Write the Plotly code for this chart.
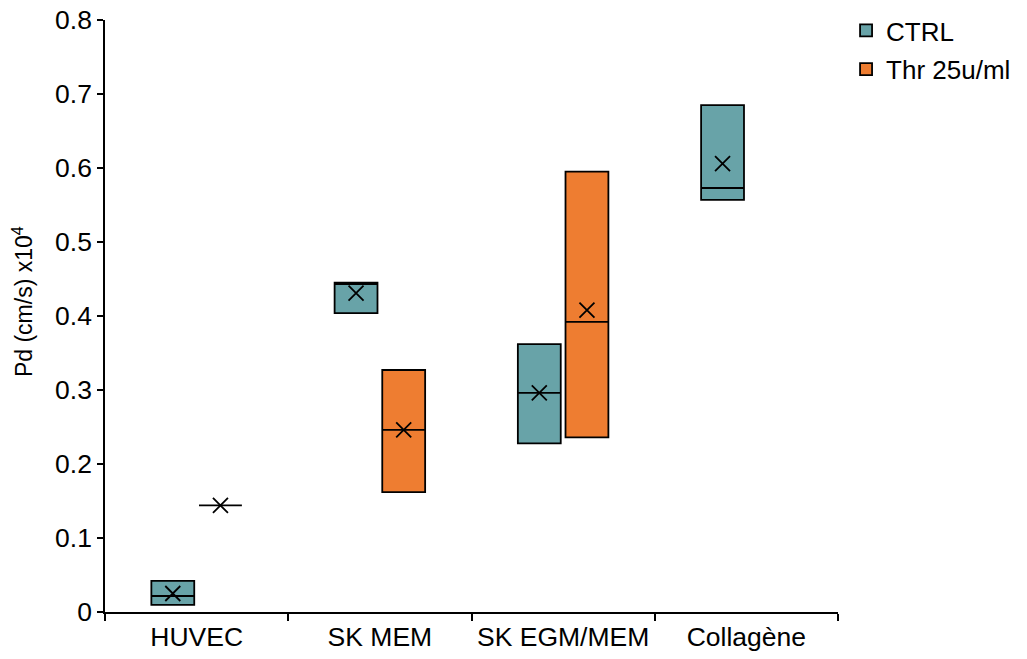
import plotly.graph_objects as go

categories = ["HUVEC", "SK MEM", "SK EGM/MEM", "Collagène"]

# CTRL series (quartiles and means)
ctrl_q1 = [0.0095, 0.404, 0.228, 0.557]
ctrl_median = [0.0216, 0.443, 0.296, 0.573]
ctrl_q3 = [0.042, 0.445, 0.362, 0.685]
ctrl_mean = [0.025, 0.431, 0.296, 0.606]

# Thr 25u/ml series (no Collagène value)
thr_cats = ["HUVEC", "SK MEM", "SK EGM/MEM"]
thr_q1 = [0.144, 0.162, 0.236]
thr_median = [0.144, 0.246, 0.392]
thr_q3 = [0.144, 0.327, 0.595]
thr_mean = [0.144, 0.246, 0.408]

y_ticks = [0, 0.1, 0.2, 0.3, 0.4, 0.5, 0.6, 0.7, 0.8]
y_ticktext = ["0", "0.1", "0.2", "0.3", "0.4", "0.5", "0.6", "0.7", "0.8"]

TEAL = "#68a3a8"
ORANGE = "#ee7d31"
FONT = "Liberation Sans, Arial, sans-serif"
FS = 26.5

fig = go.Figure()

fig.add_trace(go.Box(
    name="CTRL", x=categories, q1=ctrl_q1, median=ctrl_median, q3=ctrl_q3,
    lowerfence=ctrl_q1, upperfence=ctrl_q3,
    fillcolor=TEAL, line=dict(color="black", width=1.8), whiskerwidth=0,
    offsetgroup="ctrl", legendgroup="ctrl", hoverinfo="skip",
))
fig.add_trace(go.Box(
    name="Thr 25u/ml", x=thr_cats, q1=thr_q1, median=thr_median, q3=thr_q3,
    lowerfence=thr_q1, upperfence=thr_q3,
    fillcolor=ORANGE, line=dict(color="black", width=1.8), whiskerwidth=0,
    offsetgroup="thr", legendgroup="thr", hoverinfo="skip",
))
fig.add_trace(go.Scatter(
    x=categories, y=ctrl_mean, mode="markers", showlegend=False,
    offsetgroup="ctrl", legendgroup="ctrl",
    marker=dict(symbol="x-thin", size=15, line=dict(color="black", width=1.8)),
    hoverinfo="skip",
))
fig.add_trace(go.Scatter(
    x=thr_cats, y=thr_mean, mode="markers", showlegend=False,
    offsetgroup="thr", legendgroup="thr",
    marker=dict(symbol="x-thin", size=15, line=dict(color="black", width=1.8)),
    hoverinfo="skip",
))

fig.update_layout(
    width=1027, height=659,
    margin=dict(l=105, r=189, t=20, b=47, autoexpand=False),
    paper_bgcolor="white", plot_bgcolor="white",
    font=dict(family=FONT, size=FS, color="black"),
    boxmode="group", boxgap=0.48, boxgroupgap=0.1,
    scattermode="group", scattergap=0.48,
    legend=dict(x=1.011, y=1.022, xanchor="left", yanchor="top",
                font=dict(size=26), tracegroupgap=2, bgcolor="rgba(0,0,0,0)"),
    annotations=[dict(
        text="Pd (cm/s) x10<sup>4</sup>", textangle=-90,
        xref="paper", yref="paper", x=-0.112, y=0.525,
        xanchor="center", yanchor="middle", showarrow=False,
        font=dict(size=23),
    )],
)
fig.update_xaxes(
    type="category", categoryorder="array", categoryarray=categories,
    showline=True, linecolor="black", linewidth=1.5,
    ticks="outside", tickson="boundaries", ticklen=7, tickcolor="black", tickwidth=1.5,
    showgrid=False, zeroline=False, tickfont=dict(size=FS), automargin=False,
    ticklabeloverflow="allow",
)
fig.update_yaxes(
    range=[0, 0.8], tickvals=y_ticks, ticktext=y_ticktext,
    showline=True, linecolor="black", linewidth=1.5,
    ticks="outside", ticklen=6, tickcolor="black", tickwidth=1.5,
    showgrid=False, zeroline=False, tickfont=dict(size=FS), automargin=False,
    ticklabeloverflow="allow",
)

fig.write_html("out.html", config={"displayModeBar": False},
               post_script="document.body.style.margin='0';")
